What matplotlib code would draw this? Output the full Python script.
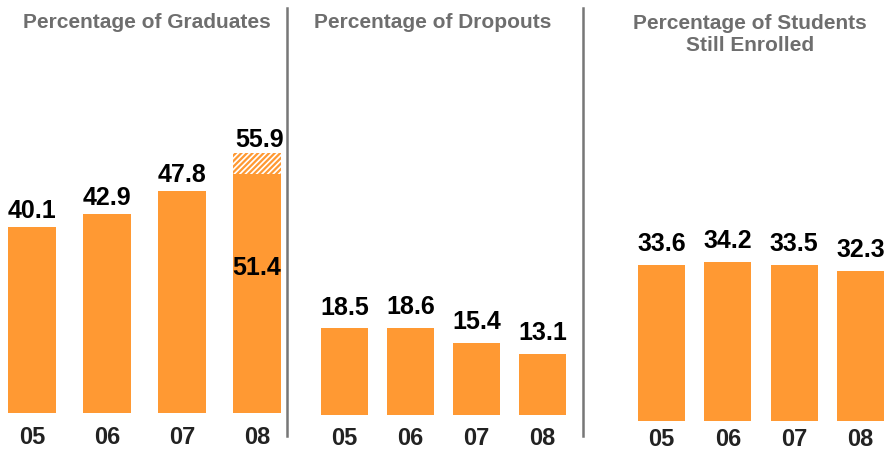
import matplotlib
matplotlib.use("Agg")
import matplotlib.pyplot as plt

plt.rcParams['font.family'] = ['Liberation Sans', 'DejaVu Sans']
plt.rcParams['hatch.linewidth'] = 1.6
plt.rcParams['hatch.color'] = '#FF9933'

years = ["05", "06", "07", "08"]
graduates = [40.1, 42.9, 47.8, 51.4]
graduates_proj = 55.9
dropouts = [18.5, 18.6, 15.4, 13.1]
enrolled = [33.6, 34.2, 33.5, 32.3]
titles = ["Percentage of Graduates", "Percentage of Dropouts",
          "Percentage of Students\nStill Enrolled"]

ORANGE = '#FF9933'
W, H = 887, 450
fig = plt.figure(figsize=(W / 100, H / 100), dpi=100)

PXU = 4.65  # pixels per unit
VFS = 18    # value label font size
TFS = 17    # tick label font size


def make_axes(left, right, base_from_top, c0, c3):
    bottom = H - base_from_top
    height_px = 80 * PXU
    ax = fig.add_axes([left / W, bottom / H, (right - left) / W, height_px / H])
    s = (c3 - c0) / 3.0
    ax.set_xlim((left - c0) / s, (right - c0) / s)
    ax.set_ylim(0, 80)
    ax.axis('off')
    return ax, s


def year_labels(ax, n, off_px):
    for xi, lab in zip(range(n), years):
        ax.text(xi, -off_px / PXU, lab, ha='center', va='center', fontsize=TFS,
                fontweight='bold', color='#222222', clip_on=False)


def draw_panel(ax, s, vals, width_px, off_px, gap):
    x = list(range(len(vals)))
    w = width_px / s
    ax.bar(x, vals, width=w, color=ORANGE, linewidth=0)
    for xi, v in zip(x, vals):
        ax.text(xi, v + gap, f"{v:.1f}", ha='center', va='bottom',
                fontsize=VFS, fontweight='bold', color='#000000', clip_on=False)
    year_labels(ax, len(vals), off_px)


# Panel 1
ax1, s1 = make_axes(0, 287, 413, 32.5, 257)
w1 = 48 / s1
x1 = list(range(len(graduates)))
ax1.bar(x1, graduates, width=w1, color=ORANGE, linewidth=0)
ax1.bar(x1[-1], graduates_proj - graduates[-1], bottom=graduates[-1], width=w1,
        color='white', edgecolor=ORANGE, hatch='//////', linewidth=0)
for xi, v in zip(x1[:-1], graduates[:-1]):
    ax1.text(xi, v + 0.7, f"{v:.1f}", ha='center', va='bottom', fontsize=VFS,
             fontweight='bold', color='#000000')
ax1.text(x1[-1] + 0.03, graduates_proj + 0.2, f"{graduates_proj:.1f}", ha='center',
         va='bottom', fontsize=VFS, fontweight='bold', color='#000000')
ax1.text(x1[-1], 31.2, f"{graduates[-1]:.1f}", ha='center', va='center',
         fontsize=VFS, fontweight='bold', color='#000000')
year_labels(ax1, len(graduates), 25)

# Panel 2
ax2, s2 = make_axes(292, 580, 414.5, 344.5, 542.5)
draw_panel(ax2, s2, dropouts, 47, 24, 1.9)

# Panel 3
ax3, s3 = make_axes(590, 887, 421, 661.5, 860.5)
draw_panel(ax3, s3, enrolled, 47, 19, 1.9)

# Titles
fig.text(147 / W, 1 - 22 / H, titles[0], ha='center', va='center',
         fontsize=15, fontweight='bold', color='#6E6E6E')
fig.text(433 / W, 1 - 22 / H, titles[1], ha='center', va='center',
         fontsize=15, fontweight='bold', color='#6E6E6E')
fig.text(750 / W, 1 - 34.5 / H, titles[2], ha='center', va='center',
         fontsize=15, fontweight='bold', color='#6E6E6E', linespacing=1.2)

# Dividers
for xp in (287, 583):
    fig.add_artist(plt.Line2D([xp / W, xp / W], [1 - 8 / H, 1 - 436 / H],
                              color='#777777', linewidth=1.8,
                              transform=fig.transFigure))

fig.savefig("out.png", dpi=100)
